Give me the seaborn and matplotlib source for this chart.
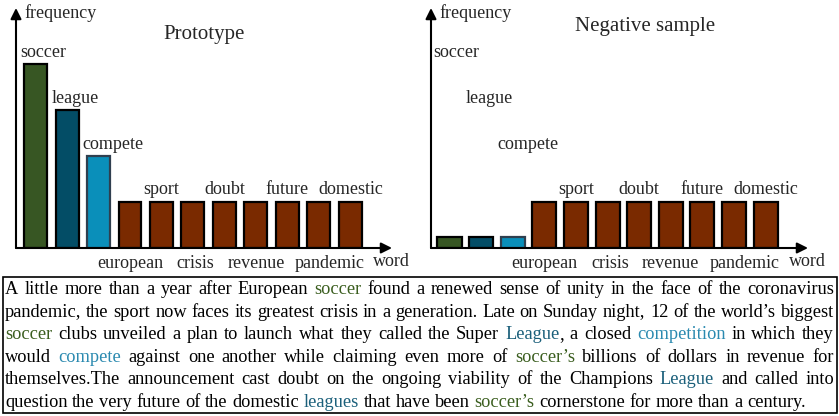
import re
import matplotlib
matplotlib.use('Agg')
import matplotlib.pyplot as plt
import seaborn as sns
import pandas as pd

# bar chart data
words = ['soccer', 'league', 'compete', 'european', 'sport', 'crisis',
         'doubt', 'revenue', 'future', 'pandemic', 'domestic']
prototype_freq = [4, 3, 2, 1, 1, 1, 1, 1, 1, 1, 1]
negative_freq = [0.25, 0.25, 0.25, 1, 1, 1, 1, 1, 1, 1, 1]
bar_colors = ['#375623', '#034d66', '#0a8fba'] + ['#7a2a00'] * 8
edge_colors = ['black', 'black', '#2f3f4f'] + ['black'] * 8

# where each word label goes: 'left' = above, left aligned; 'top' = above bar; 'below' = under axis
label_pos = ['left', 'left', 'left', 'below', 'top', 'below', 'top',
             'below', 'top', 'below', 'top']
label_shift = {'pandemic': 0.35, 'crisis': 0.08}

# paragraph (g{..}=soccer green, l{..}=league blue, c{..}=compete blue)
body_lines = [
    "A little more than a year after European g{soccer} found a renewed sense of unity in the face of the coronavirus",
    "pandemic, the sport now faces its greatest crisis in a generation. Late on Sunday night, 12 of the world\u2019s biggest",
    "g{soccer} clubs unveiled a plan to launch what they called the Super l{League}, a closed c{competition} in which they",
    "would c{compete} against one another while claiming even more of g{soccer\u2019s} billions of dollars in revenue for",
    "themselves.The announcement cast doubt on the ongoing viability of the Champions l{League} and called into",
    "question the very future of the domestic l{leagues} that have been g{soccer\u2019s} cornerstone for more than a century.",
]
text_colors = {'g': '#3b5e1f', 'l': '#1a5f7a', 'c': '#2b8ab0', 'k': 'black'}

sns.set_style('white')
plt.rcParams['font.family'] = ['Liberation Serif', 'DejaVu Serif']

W, H = 839, 416
fig = plt.figure(figsize=(W / 100, H / 100), dpi=100)

# pixel overlay for free text
over = fig.add_axes([0, 0, 1, 1], zorder=0)
over.set_xlim(0, W)
over.set_ylim(H, 0)
over.axis('off')
over.patch.set_alpha(0)


def draw_panel(left_px, right_px, freqs, title, title_xy, xlim, width):
    ax = fig.add_axes([left_px / W, (H - 248) / H, (right_px - left_px) / W, 240 / H], zorder=2)
    ax.patch.set_alpha(0)
    df = pd.DataFrame({'word': words, 'freq': freqs})
    sns.barplot(data=df, x='word', y='freq', hue='word', palette=bar_colors,
                legend=False, width=width, ax=ax, saturation=1)
    for patch, ec in zip(ax.patches, edge_colors):
        patch.set_edgecolor(ec)
        patch.set_linewidth(1.6)
    ax.set_xlim(*xlim)
    ax.set_ylim(0, 240 / 46)
    ax.set_xticks([])
    ax.set_yticks([])
    ax.set_xlabel('')
    ax.set_ylabel('')
    for s in ax.spines.values():
        s.set_visible(False)
    arrow = dict(arrowstyle='-|>', lw=1.5, color='black', mutation_scale=16, shrinkA=0, shrinkB=0)
    ax.annotate('', xy=(1, 0), xytext=(0, 0), xycoords='axes fraction', arrowprops=arrow)
    ax.annotate('', xy=(0, 1), xytext=(0, 0), xycoords='axes fraction', arrowprops=arrow)

    for i, (w, pos) in enumerate(zip(words, label_pos)):
        if pos == 'left':
            ax.annotate(w, xy=(i - 0.5, prototype_freq[i]), xytext=(0, 5), textcoords='offset points',
                        ha='left', va='baseline', fontsize=13, annotation_clip=False)
        elif pos == 'top':
            ax.annotate(w, xy=(i, freqs[i]), xytext=(0, 5.5), textcoords='offset points',
                        ha='center', va='baseline', fontsize=13, annotation_clip=False)
        else:
            ax.annotate(w, xy=(i + label_shift.get(w, 0), 0), xytext=(0, -14.5), textcoords='offset points',
                        ha='center', va='baseline', fontsize=13, annotation_clip=False)
    over.text(left_px + 8, 13, 'frequency', fontsize=13, ha='left', va='center')
    over.text(right_px - 19, 261, 'word', fontsize=13, ha='left', va='center')
    over.text(title_xy[0], title_xy[1], title, fontsize=15, ha='center', va='center')


draw_panel(16, 392, prototype_freq, 'Prototype', (204, 34), (-0.62, 11.32), 0.73)
draw_panel(431, 808, negative_freq, 'Negative sample', (645, 27), (-0.585, 11.34), 0.76)

# paragraph box
over.add_patch(plt.Rectangle((3, 277), 834, 136, fill=False, lw=1.2, ec='black'))

renderer = fig.canvas.get_renderer()
pattern = re.compile(r'([gcl])\{([^}]*)\}')


def segments(word):
    segs, pos = [], 0
    for m in pattern.finditer(word):
        if m.start() > pos:
            segs.append((word[pos:m.start()], 'k'))
        segs.append((m.group(2), m.group(1)))
        pos = m.end()
    if pos < len(word):
        segs.append((word[pos:], 'k'))
    return segs


def width(s, fs):
    t = over.text(0, 0, s, fontsize=fs)
    w = t.get_window_extent(renderer).width
    t.remove()
    return w


def word_width(word, fs):
    return sum(width(s, fs) for s, _ in segments(word))


# fit the (unjustified) last line to its width in the picture
base = 12
last = body_lines[-1].split(' ')
nat = sum(word_width(w, base) for w in last) + (len(last) - 1) * (width('x x', base) - width('xx', base))
fs = base * 797 / nat
space = width('x x', fs) - width('xx', fs)

x0, x1 = 5, 834
for li, line in enumerate(body_lines):
    toks = line.split(' ')
    widths = [word_width(w, fs) for w in toks]
    if li < len(body_lines) - 1:
        gap = (x1 - x0 - sum(widths)) / (len(toks) - 1)
    else:
        gap = space
    y = 294 + 22.6 * li
    x = x0
    for tok, tw in zip(toks, widths):
        cx = x
        for s, c in segments(tok):
            over.text(cx, y, s, fontsize=fs, color=text_colors[c], ha='left', va='baseline')
            cx += width(s, fs)
        x += tw + gap

fig.savefig('out.png', dpi=100)
